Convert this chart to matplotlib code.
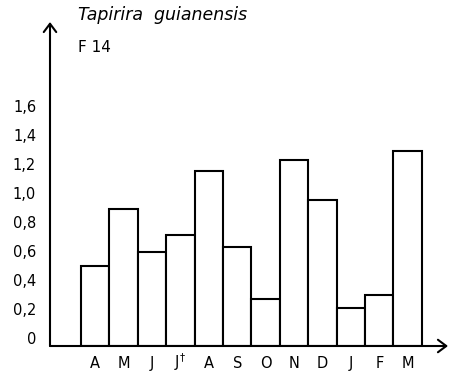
import numpy as np
import matplotlib.pyplot as plt

months = ["A", "M", "J", "J$^{\\dagger}$", "A", "S", "O", "N", "D", "J", "F", "M"]
values = [0.50, 0.89, 0.59, 0.71, 1.15, 0.63, 0.27, 1.23, 0.95, 0.21, 0.30, 1.29]
yticks = [0, 0.2, 0.4, 0.6, 0.8, 1.0, 1.2, 1.4, 1.6]
ytick_labels = ["0", "0,2", "0,4", "0,6", "0,8", "1,0", "1,2", "1,4", "1,6"]

base = -0.055  # drawn baseline sits a little under the "0" label

fig = plt.figure(figsize=(4.53, 3.77), dpi=100)
ax = fig.add_axes([50 / 453, 31 / 377, 398 / 453, 324 / 377])

x = np.arange(len(values))
ax.bar(x, np.array(values) - base, bottom=base, width=1.0,
       color="white", edgecolor="black", linewidth=1.5)

ax.set_xlim(-1.59, 12.42)
ax.set_ylim(base, 2.18)

for s in ax.spines.values():
    s.set_visible(False)

# axes with arrow heads
arrow = dict(arrowstyle="->,head_width=0.45,head_length=0.6", lw=1.5,
             color="black", mutation_scale=10, shrinkA=0, shrinkB=0)
ax.annotate("", xy=(1, 0), xytext=(0, 0), xycoords="axes fraction",
            textcoords="axes fraction", arrowprops=arrow)
ax.annotate("", xy=(0, 1), xytext=(0, 0), xycoords="axes fraction",
            textcoords="axes fraction", arrowprops=arrow)

ax.set_xticks(x)
ax.set_xticklabels(months, fontsize=10.5)
for lbl in ax.get_xticklabels():
    lbl.set_va("baseline")
ax.set_yticks(yticks)
ax.set_yticklabels(ytick_labels, fontsize=10.5)
ax.tick_params(axis="x", length=0, pad=15.5)
ax.tick_params(axis="y", length=0, pad=10)

fig.text(78 / 453, 1 - 15 / 377, "Tapirira  guianensis", fontsize=12.5,
         style="italic", va="center", ha="left")
fig.text(78 / 453, 1 - 47 / 377, "F 14", fontsize=11, va="center", ha="left")

fig.savefig("out.png", dpi=100, facecolor="white")
